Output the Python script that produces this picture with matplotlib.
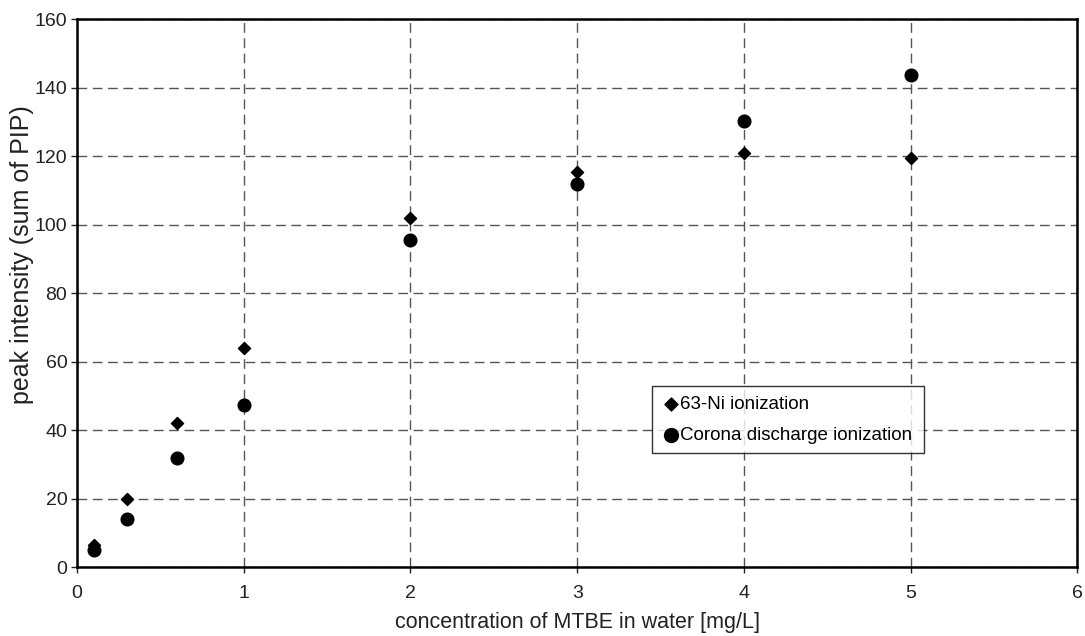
import matplotlib
matplotlib.use("Agg")
import matplotlib.pyplot as plt

plt.rcParams['font.family'] = ['Liberation Sans', 'DejaVu Sans']

conc = [0.1, 0.3, 0.6, 1, 2, 3, 4, 5]
ni_intensity = [6.5, 20, 42, 64, 102, 115.5, 121, 119.5]
corona_intensity = [5, 14, 32, 47.5, 95.5, 112, 130.2, 143.6]

fig = plt.figure(figsize=(10.85, 6.36), dpi=100)
ax = fig.add_axes([0.071, 0.108, 0.922, 0.862])

ax.scatter(conc, ni_intensity, marker='D', s=38, color='black', label='63-Ni ionization', zorder=3)
ax.scatter(conc, corona_intensity, marker='o', s=83, color='black', label='Corona discharge ionization', zorder=3)

ax.set_xlim(0, 6)
ax.set_ylim(0, 160)
ax.set_xticks(range(0, 7))
ax.set_yticks(range(0, 161, 20))
ax.grid(True, linestyle=(0, (7, 4)), color='#555555', linewidth=1)
ax.set_axisbelow(True)
for s in ax.spines.values():
    s.set_linewidth(1.8)
ax.tick_params(direction='out', length=4, width=1, labelsize=14, colors='#222222')
ax.tick_params(axis='x', pad=9)
ax.tick_params(axis='y', pad=3)

ax.set_xlabel('concentration of MTBE in water [mg/L]', fontsize=15.5, color='#222222', labelpad=7)
ax.set_ylabel('peak intensity (sum of PIP)', fontsize=18, color='#222222')
ax.yaxis.set_label_coords(-0.043, 0.57)

leg = ax.legend(loc='lower left', bbox_to_anchor=(0.575, 0.208, 0.272, 0.12), mode='expand',
                fontsize=13.5, frameon=True, fancybox=False, handletextpad=0.0,
                handlelength=1.0, borderpad=0.5, labelspacing=0.75, borderaxespad=0)
leg.get_frame().set_edgecolor('black')
leg.get_frame().set_linewidth(1)
leg.legend_handles[0].set_sizes([44])
leg.legend_handles[1].set_sizes([100])

fig.savefig('out.png', dpi=100)
